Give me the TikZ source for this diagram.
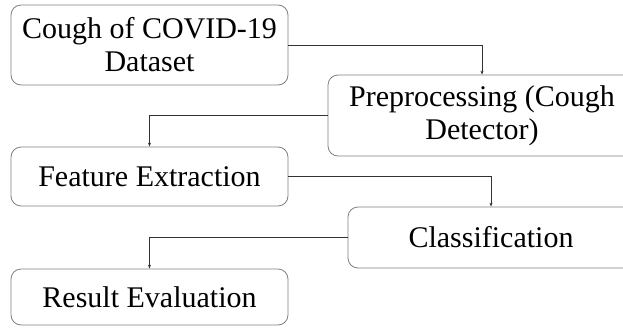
\documentclass[tikz,border=0pt]{standalone}
\usepackage{fontspec}
\setmainfont{Liberation Serif}
\usetikzlibrary{positioning,arrows.meta}

\tikzset{
  stage/.style={draw=black!50, line width=0.8pt, rounded corners=10pt,
    align=center, inner sep=0pt, font=\fontsize{30}{33}\selectfont},
  flow/.style={draw=black!80, line width=0.8pt, -{Stealth[length=4pt,width=3pt]}}
}

\begin{document}
\begin{tikzpicture}[x=1pt,y=-1pt]
\useasboundingbox (0,0) rectangle (623,327);
\clip (0,0) rectangle (623,327);

\node (S1) [stage, minimum width=277pt, minimum height=80pt] at (149.5,45) {Cough of COVID-19\\Dataset};
\node (S2) [stage, minimum width=308pt, minimum height=81pt] at (482,115.5) {Preprocessing (Cough\\Detector)};
\node (S3) [stage, minimum width=277pt, minimum height=59pt] at (149.5,176.5) {Feature Extraction};
\node (S4) [stage, minimum width=286pt, minimum height=61pt] at (491,237.5) {Classification};
\node (S5) [stage, minimum width=277pt, minimum height=56pt] at (149.5,297) {Result Evaluation};

\draw[flow] (S1.east) -| (S2.north);
\draw[flow] (S2.west) -| (S3.north);
\draw[flow] (S3.east) -| (S4.north);
\draw[flow] (S4.west) -| (S5.north);

\end{tikzpicture}
\end{document}
